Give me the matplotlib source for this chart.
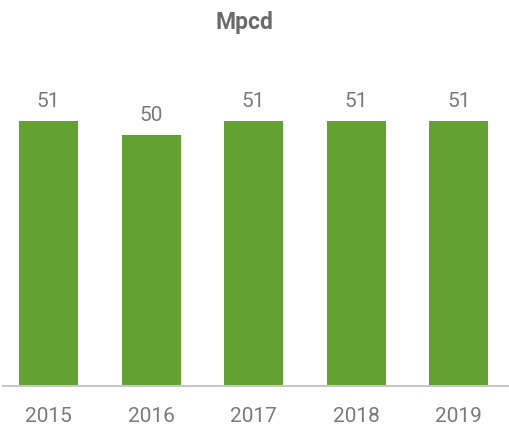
import matplotlib.pyplot as plt

# data
years = ["2015", "2016", "2017", "2018", "2019"]
mpcd = [51, 50, 51, 51, 51]

bar_color = "#63a132"
text_gray = "#7a7a7a"

plt.rcParams['font.family'] = ['Roboto', 'DejaVu Sans']

fig = plt.figure(figsize=(5.10, 4.28), dpi=100)
ax = fig.add_axes([0.006, 0.098, 0.992, 0.76])

x = range(len(years))
bars = ax.bar(x, mpcd, width=0.576, color=bar_color, zorder=2)

# value labels above the bars
for b, v in zip(bars, mpcd):
    ax.annotate(str(v), (b.get_x() + b.get_width() / 2, b.get_height()),
                xytext=(0, 7), textcoords="offset points",
                ha="center", va="bottom", fontsize=15, color=text_gray)

ax.set_xlim(-0.444, 4.49)
ax.set_ylim(32, 55.3)
ax.set_xticks(list(x))
ax.set_xticklabels(years, fontsize=15, color=text_gray)
ax.tick_params(axis="x", length=0, pad=15)
ax.set_yticks([])

for s in ["top", "right", "left"]:
    ax.spines[s].set_visible(False)
ax.spines["bottom"].set_color("#c8c8c8")
ax.spines["bottom"].set_linewidth(1.5)

fig.text(0.48, 0.947, "Mpcd", ha="center", va="center", fontsize=16.5,
         fontweight="bold", color="#6a6a6a")

plt.savefig("out.png", dpi=100)
